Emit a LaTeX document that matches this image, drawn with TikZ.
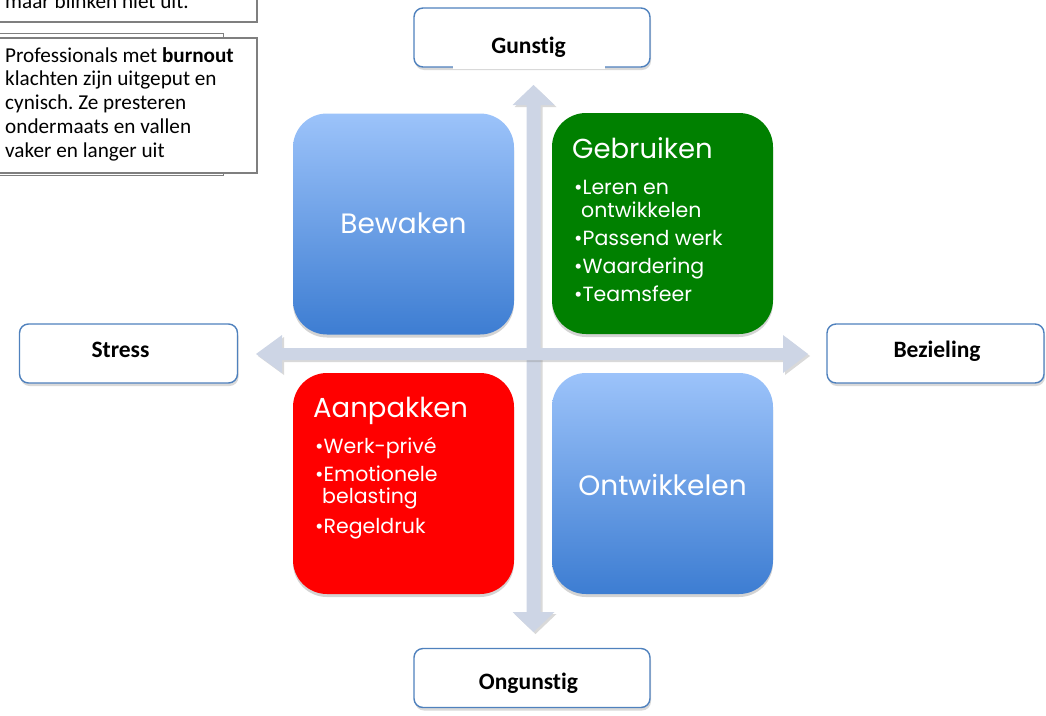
\documentclass[tikz,border=0pt]{standalone}
\usepackage{fontspec}
\setmainfont{Carlito}[Ligatures=NoCommon]
\newfontfamily\gothic{Poppins}
\usetikzlibrary{shadows}
\frenchspacing

\definecolor{qtop}{HTML}{9CC3FA}
\definecolor{qbot}{HTML}{3D7DD2}
\definecolor{qgreen}{HTML}{008000}
\definecolor{qred}{HTML}{FF0000}
\definecolor{axisfill}{HTML}{CDD5E5}
\definecolor{lblue}{HTML}{4F81BD}
\definecolor{noteline}{HTML}{7F7F7F}

\tikzset{
  quad/.style={rectangle, rounded corners=34pt, minimum width=221pt,
    minimum height=221pt, inner sep=0pt,
    drop shadow={opacity=0.35, shadow xshift=0pt, shadow yshift=-3pt}},
  skyshade/.style={top color=qtop, bottom color=qbot},
  qtitle/.style={font=\gothic\fontsize{28}{31}\selectfont, text=white, inner sep=0pt},
  qhead/.style={font=\gothic\fontsize{27.5}{30}\selectfont, text=white,
    inner sep=0pt, anchor=base west},
  qitem/.style={font=\gothic\fontsize{20.5}{22}\selectfont, text=white,
    inner sep=0pt, anchor=base west},
  axisbox/.style={rectangle, rounded corners=9pt, draw=lblue, line width=1.4pt,
    fill=white, inner sep=0pt,
    drop shadow={opacity=0.3, shadow xshift=1pt, shadow yshift=-3pt}},
  axistext/.style={font=\bfseries\fontsize{23.5}{25}\selectfont, inner sep=0pt},
  axisarrow/.style={fill=axisfill,
    drop shadow={opacity=0.3, shadow xshift=2pt, shadow yshift=-2pt}},
  notebox/.style={draw=noteline, line width=1.1pt, fill=white},
  notetext/.style={font=\fontsize{21.2}{23.8}\selectfont, inner sep=0pt,
    align=left, anchor=north west},
}

\begin{document}
\begin{tikzpicture}[x=1pt, y=-1pt]
\useasboundingbox (0,0) rectangle (1046,715);

% ---- side notes (top left) ----
\draw[notebox] (-2,-12) rectangle (257,22);
\node[font=\fontsize{21.2}{23.8}\selectfont, inner sep=0pt, anchor=base west] (note1) at (5,8) {maar blinken niet uit.};
\draw[draw=noteline, line width=1pt, fill=white] (-2,33) rectangle (223,175);
\draw[notebox] (-2,38) rectangle (257,173);
\node[notetext] (note2) at (5,47) {Professionals met \textbf{burnout}\\klachten zijn uitgeput en\\cynisch. Ze presteren\\ondermaats en vallen\\vaker en langer uit};

% ---- axes ----
\coordinate (vtop) at (533.5,85);
\coordinate (vbot) at (533.5,632);
\coordinate (hleft) at (256,354);
\coordinate (hright) at (808,354);
\path[axisarrow] (vtop) -- ++(21,20) -- ++(-14,0) -- (540.5,612) -- ++(14,0)
  -- (vbot) -- ++(-21,-20) -- ++(14,0) -- (526.5,105) -- ++(-14,0) -- cycle;
\path[axisarrow] (hleft) -- ++(26,-19) -- ++(0,13) -- (783,348) -- ++(0,-13)
  -- (hright) -- ++(-25,19) -- ++(0,-13) -- (282,360) -- ++(0,13) -- cycle;

% ---- axis labels ----
\node[axisbox, minimum width=236pt, minimum height=59pt] (gunstig) at (532,37.5) {};
\fill[white] (453,66) rectangle (605,69);
\node[axistext] (gunstig-t) at (528.5,47) {Gunstig};
\node[axisbox, minimum width=218pt, minimum height=59pt] (stress) at (128.5,353.5) {};
\node[axistext] (stress-t) at (120.5,350) {Stress};
\node[axisbox, minimum width=217pt, minimum height=59pt] (bezieling) at (935.5,353.5) {};
\node[axistext] (bezieling-t) at (937,351) {Bezieling};
\node[axisbox, minimum width=236pt, minimum height=59pt] (ongunstig) at (532,678) {};
\node[axistext] (ongunstig-t) at (528.5,683) {Ongunstig};

% ---- quadrants ----
\node[quad, skyshade] (bewaken) at (403.5,224) {};
\node[qtitle] (bewaken-t) at (403.5,223) {Bewaken};

\node[quad, fill=qgreen] (gebruiken) at (662.5,223.5) {};
\node[qhead] (gebruiken-t) at (572,158) {Gebruiken};
\node[qitem] (g1) at (574,194) {•Leren en};
\node[qitem] (g1b) at (581,217) {ontwikkelen};
\node[qitem] (g2) at (574,245) {•Passend werk};
\node[qitem] (g3) at (574,273) {•Waardering};
\node[qitem] (g4) at (574,301) {•Teamsfeer};

\node[quad, fill=qred] (aanpakken) at (403.5,483.5) {};
\node[qhead] (aanpakken-t) at (313,417) {Aanpakken};
\node[qitem] (a1) at (315,453) {•Werk-privé};
\node[qitem] (a2) at (315,481) {•Emotionele};
\node[qitem] (a2b) at (322,503) {belasting};
\node[qitem] (a3) at (315,533) {•Regeldruk};

\node[quad, skyshade] (ontwikkelen) at (662.5,483.5) {};
\node[qtitle] (ontwikkelen-t) at (662.5,485) {Ontwikkelen};
\end{tikzpicture}
\end{document}
